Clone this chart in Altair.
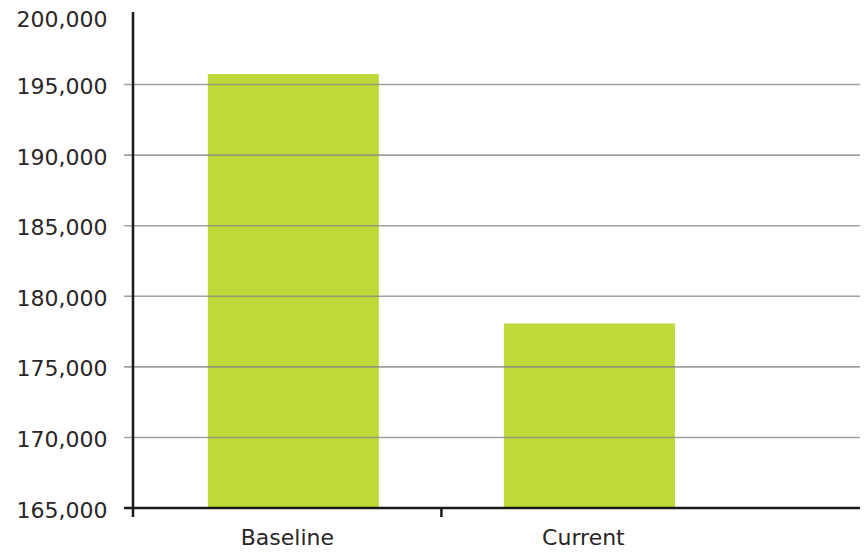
import altair as alt
import pandas as pd

categories = ["Baseline", "Current"]
values = [195750, 178080]
y_ticks = [165000, 170000, 175000, 180000, 185000, 190000, 195000, 200000]
grid_values = [170000, 175000, 180000, 185000, 190000, 195000]

df = pd.DataFrame({"category": categories, "value": values})
grid_df = pd.DataFrame({"g": grid_values})
one = pd.DataFrame({"k": [0]})

W, H = 727, 494
FONT = "DejaVu Sans"
TXT = "#2a2627"
GRID = "#888888"

xscale = alt.Scale(domain=categories, paddingInner=0.4223, paddingOuter=0.439, align=0.288)
yscale = alt.Scale(domain=[165000, 200000], zero=False, nice=False)

top_offset = {"condition": {"test": "datum.value === 200000", "value": 5}, "value": 2}

bars = alt.Chart(df).mark_bar(color="#c0d838", clip=True).encode(
    x=alt.X("category:N", scale=xscale, sort=categories,
            axis=alt.Axis(title=None, domain=False, ticks=False, grid=False,
                          labelFont=FONT, labelFontSize=22, labelColor=TXT,
                          labelPadding=19, labelOffset=-6, labelAngle=0)),
    y=alt.Y("value:Q", scale=yscale,
            axis=alt.Axis(title=None, values=y_ticks, format=",.0f", domain=False,
                          grid=False, ticks=False, labelPadding=26, labelFont=FONT,
                          labelFontSize=22, labelColor=TXT, labelOffset=top_offset)),
)

grid = alt.Chart(grid_df).mark_rule(color=GRID, strokeWidth=1.6, opacity=0.8).encode(
    y=alt.Y("g:Q", scale=yscale), x=alt.value(-9), x2=alt.value(W)
)

yline = alt.Chart(one).mark_rule(color="#1a1a1a", strokeWidth=2.5).encode(
    x=alt.value(0), y=alt.value(-2), y2=alt.value(H + 9)
)
xline = alt.Chart(one).mark_rule(color="#1a1a1a", strokeWidth=2.5).encode(
    x=alt.value(-9), x2=alt.value(W), y=alt.value(H)
)
sep_tick = alt.Chart(one).mark_rule(color="#1a1a1a", strokeWidth=2.5, xOffset=-62.5).encode(
    x=alt.XDatum("Current", type="nominal", bandPosition=0),
    y=alt.value(H), y2=alt.value(H + 9)
)

chart = alt.layer(bars, grid, yline, xline, sep_tick).properties(
    width=W, height=H,
    padding={"left": 125, "top": 6, "right": 0, "bottom": 48},
    autosize=alt.AutoSizeParams(type="none"),
).configure_view(stroke=None)

chart.save("out.html", embed_options={"renderer": "svg", "actions": False})
